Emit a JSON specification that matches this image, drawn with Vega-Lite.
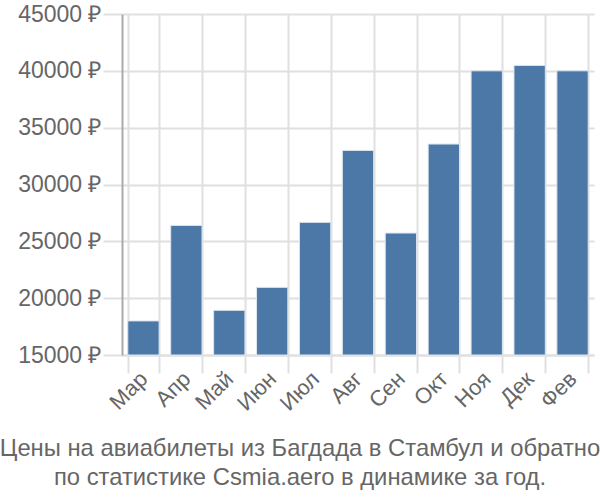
{
  "$schema": "https://vega.github.io/schema/vega-lite/v6.json",
  "autosize": "none",
  "width": 472,
  "height": 341,
  "padding": {"left": 122, "top": 14, "right": 6, "bottom": 145},
  "background": "white",
  "data": {
    "values": [
      {"month": "Мар", "price": 18000},
      {"month": "Апр", "price": 26400},
      {"month": "Май", "price": 18930},
      {"month": "Июн", "price": 20950},
      {"month": "Июл", "price": 26670},
      {"month": "Авг", "price": 33000},
      {"month": "Сен", "price": 25730},
      {"month": "Окт", "price": 33560},
      {"month": "Ноя", "price": 40000},
      {"month": "Дек", "price": 40480},
      {"month": "Фев", "price": 40000}
    ]
  },
  "title": {
    "text": ["Цены на авиабилеты из Багдада в Стамбул и обратно", "по статистике Csmia.aero в динамике за год."],
    "orient": "bottom",
    "anchor": "middle",
    "dx": -58,
    "offset": 23,
    "font": "Liberation Sans",
    "fontSize": 23.8,
    "fontWeight": "normal",
    "color": "#666666",
    "lineHeight": 28.5
  },
  "config": {
    "view": {"stroke": null},
    "axis": {
      "labelFont": "Liberation Sans",
      "labelColor": "#666666",
      "gridColor": "#e0e0e0",
      "tickColor": "#e0e0e0",
      "domainColor": "#aaaaaa",
      "title": null
    }
  },
  "mark": {"type": "bar", "fill": "#4c78a8", "stroke": "#dde6f0", "strokeWidth": 1},
  "encoding": {
    "x": {
      "field": "month",
      "type": "nominal",
      "sort": null,
      "scale": {"paddingInner": 0.27, "paddingOuter": 0.135},
      "axis": {
        "labelAngle": -45,
        "labelAlign": "right",
        "labelBaseline": "middle",
        "labelFontSize": 22,
        "grid": true,
        "tickBand": "extent",
        "tickSize": 18,
        "tickWidth": 2,
        "gridWidth": 2,
        "labelPadding": 2,
        "domain": true,
        "domainColor": "#e0e0e0",
        "domainWidth": 2
      }
    },
    "y": {
      "field": "price",
      "type": "quantitative",
      "scale": {"domain": [15000, 45000], "zero": false, "nice": false},
      "axis": {
        "values": [15000, 20000, 25000, 30000, 35000, 40000, 45000],
        "labelExpr": "datum.value + ' ₽'",
        "labelFontSize": 23,
        "labelLimit": 200,
        "tickSize": 19,
        "labelPadding": 2,
        "gridWidth": 2,
        "tickWidth": 2,
        "domainWidth": 2
      }
    },
    "y2": {"datum": 15000}
  }
}
